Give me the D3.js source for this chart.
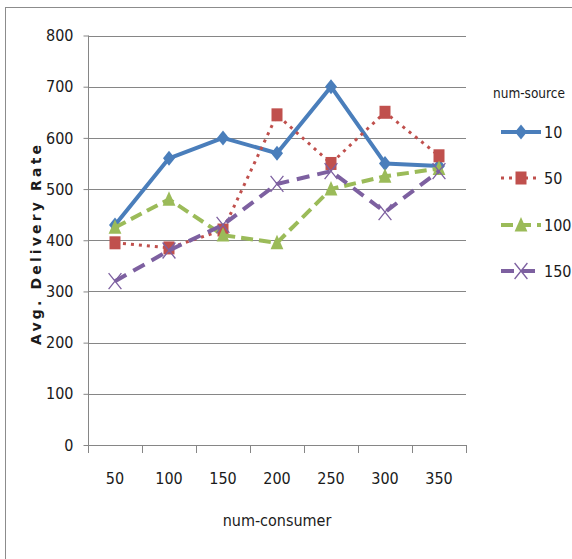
<!DOCTYPE html>
<html>
<head>
<meta charset="utf-8">
<script src="https://cdn.jsdelivr.net/npm/d3@7"></script>
<style>
  html, body { margin: 0; padding: 0; background: #fff; }
  svg { display: block; }
  .lbl { font-family: "DejaVu Sans Condensed", "DejaVu Sans", sans-serif; font-stretch: condensed; fill: #1a1a1a; }
</style>
</head>
<body>
<svg id="chart" width="572" height="559"></svg>
<script>
// Categories along the x axis (number of consumers)
const consumers = ["50", "100", "150", "200", "250", "300", "350"];
// Series names (number of sources)
const sourceNames = ["10", "50", "100", "150"];
// Average delivery rate per series
const rate10  = [430, 560, 600, 570, 700, 550, 545];
const rate50  = [395, 385, 420, 645, 550, 650, 565];
const rate100 = [425, 480, 410, 395, 500, 525, 540];
const rate150 = [320, 380, 430, 510, 535, 455, 535];
const yTicks = [0, 100, 200, 300, 400, 500, 600, 700, 800];

const seriesValues = [rate10, rate50, rate100, rate150];
const styles = [
  { color: "#4a7ebb", width: 4,   dash: null,   marker: "diamond" },
  { color: "#c0504d", width: 3,   dash: "3 5",  marker: "square" },
  { color: "#9bbb59", width: 4,   dash: "12 6", marker: "triangle" },
  { color: "#7d60a0", width: 4,   dash: "13 8", marker: "cross" }
];

const FS = 16;
const svg = d3.select("#chart");
const plotL = 88, plotR = 466, plotT = 35.5, plotB = 445;

// Outer chart frame
svg.append("rect")
  .attr("x", 5.5).attr("y", 7.5).attr("width", 620).attr("height", 620)
  .attr("fill", "#fff").attr("stroke", "#8c8c8c").attr("stroke-width", 1);

const x = d3.scaleBand().domain(consumers).range([plotL, plotR]);
const y = d3.scaleLinear().domain([0, 800]).range([plotB, plotT]);

// Horizontal gridlines
svg.append("g").selectAll("line").data(yTicks.filter(d => d > 0)).join("line")
  .attr("x1", plotL).attr("x2", plotR)
  .attr("y1", d => Math.round(y(d)) + 0.5).attr("y2", d => Math.round(y(d)) + 0.5)
  .attr("stroke", "#868686").attr("stroke-width", 1);

// Y axis
const yAxis = svg.append("g").attr("transform", `translate(${plotL + 0.5},0)`)
  .call(d3.axisLeft(y).tickValues(yTicks).tickSize(5).tickPadding(10));
yAxis.select(".domain").attr("stroke", "#868686").attr("d", `M0,${plotT}V${plotB}`);
yAxis.selectAll(".tick line").attr("stroke", "#868686");
yAxis.selectAll(".tick text").attr("class", "lbl").attr("font-size", FS).attr("fill", "#1a1a1a");

// X axis with ticks at category boundaries
const xAxis = svg.append("g").attr("transform", `translate(0,${plotB + 0.5})`)
  .call(d3.axisBottom(x).tickSize(0).tickPadding(27));
xAxis.select(".domain").attr("stroke", "#868686").attr("d", `M${plotL},0H${plotR}`);
xAxis.selectAll(".tick text").attr("class", "lbl").attr("font-size", FS).attr("fill", "#1a1a1a");
const bounds = consumers.map(c => x(c)).concat([plotR]);
svg.append("g").selectAll("line").data(bounds).join("line")
  .attr("x1", d => Math.round(d) + 0.5).attr("x2", d => Math.round(d) + 0.5)
  .attr("y1", plotB).attr("y2", plotB + 8)
  .attr("stroke", "#868686");

// Axis titles
svg.append("text").attr("class", "lbl")
  .attr("x", (plotL + plotR) / 2).attr("y", 526)
  .attr("text-anchor", "middle").attr("font-size", FS)
  .text("num-consumer");
svg.append("text")
  .attr("transform", "translate(41,245) rotate(-90)")
  .attr("text-anchor", "middle")
  .attr("font-family", "DejaVu Sans, sans-serif").attr("font-weight", "bold")
  .attr("font-size", 14).attr("fill", "#1a1a1a")
  .attr("textLength", 200).attr("lengthAdjust", "spacing")
  .text("Avg. Delivery Rate");

// Marker shapes
function drawMarker(g, type, cx, cy, color, scale = 1) {
  if (type === "diamond") {
    const s = 7.5 * scale;
    g.append("path").attr("d", `M${cx},${cy - s}L${cx + s * 0.8},${cy}L${cx},${cy + s}L${cx - s * 0.8},${cy}Z`)
      .attr("fill", color);
  } else if (type === "square") {
    const w = 11 * scale, h = 13 * scale;
    g.append("rect").attr("x", cx - w / 2).attr("y", cy - h / 2).attr("width", w).attr("height", h)
      .attr("fill", color);
  } else if (type === "triangle") {
    const s = 8 * scale;
    g.append("path").attr("d", `M${cx},${cy - s}L${cx + s * 0.8},${cy + s * 0.8}L${cx - s * 0.8},${cy + s * 0.8}Z`)
      .attr("fill", color);
  } else {
    const s = 8 * scale;
    g.append("path").attr("d", `M${cx - s * 0.8},${cy - s}L${cx + s * 0.8},${cy + s}M${cx + s * 0.8},${cy - s}L${cx - s * 0.8},${cy + s}`)
      .attr("stroke", color).attr("stroke-width", 1.3).attr("fill", "none");
  }
}

// Series lines and markers
const line = d3.line().x((d, i) => x(consumers[i]) + x.bandwidth() / 2).y(d => y(d));
seriesValues.forEach((vals, si) => {
  const st = styles[si];
  const g = svg.append("g");
  g.append("path").datum(vals).attr("d", line)
    .attr("fill", "none").attr("stroke", st.color).attr("stroke-width", st.width)
    .attr("stroke-linejoin", "round")
    .attr("stroke-dasharray", st.dash);
  vals.forEach((v, i) => drawMarker(g, st.marker, x(consumers[i]) + x.bandwidth() / 2, y(v), st.color));
});

// Legend
svg.append("text").attr("class", "lbl").attr("x", 493).attr("y", 98)
  .attr("font-size", 13.5)
  .text("num-source");
const legendY = [132, 178, 225, 271];
sourceNames.forEach((name, i) => {
  const st = styles[i];
  const g = svg.append("g");
  const ly = legendY[i];
  g.append("line").attr("x1", 501).attr("x2", 541).attr("y1", ly).attr("y2", ly)
    .attr("stroke", st.color).attr("stroke-width", st.width).attr("stroke-dasharray", st.dash);
  drawMarker(g, st.marker, 521, ly, st.color);
  g.append("text").attr("class", "lbl").attr("x", 544).attr("y", ly + 6)
    .attr("font-size", FS).text(name);
});
</script>
</body>
</html>
